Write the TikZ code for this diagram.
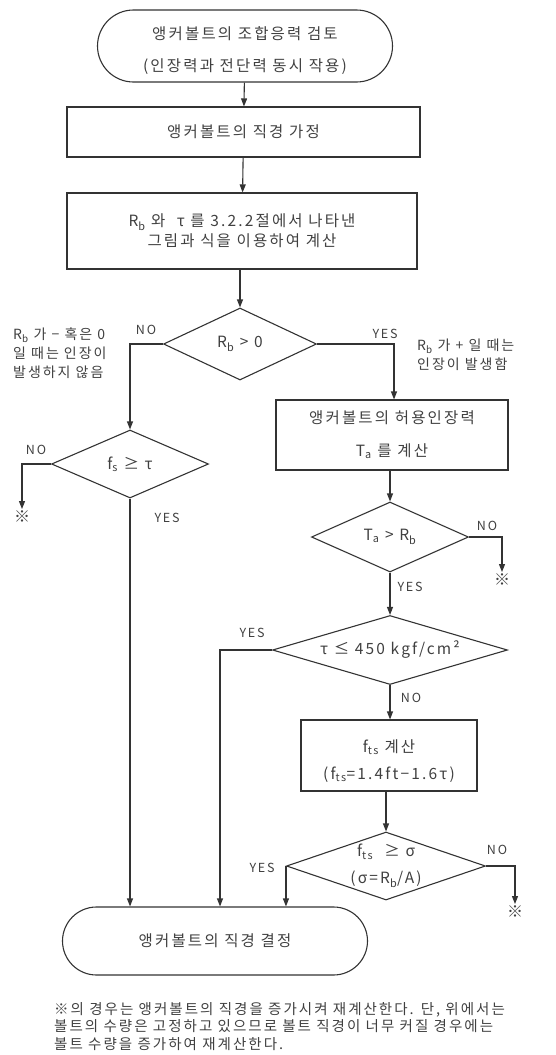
\documentclass[tikz,border=0pt]{standalone}
\usepackage{fontspec}
\setmainfont{Noto Sans CJK KR}[LetterSpace=14]
\usetikzlibrary{shapes.geometric,shapes.misc,arrows.meta}
\newcommand{\sbs}[1]{\textsubscript{#1}}
\begin{document}
\begin{tikzpicture}[x=1pt,y=-1pt,
  txt/.style={text=black!75, inner sep=1pt},
  mainfont/.style={font=\fontsize{15.5}{20}\selectfont},
  lbl/.style={txt, font=\fontsize{12.5}{19}\selectfont},
  notefont/.style={txt, font=\fontsize{14}{19}\selectfont},
  shp/.style={draw=black!80, line width=1.1pt, txt, mainfont, align=center, inner sep=0pt},
  term/.style={shp, rounded rectangle},
  box/.style={shp, rectangle},
  dec/.style={shp, diamond},
  conn/.style={draw=black!80, line width=1.1pt},
  arr/.style={conn, -{Triangle[length=8pt,width=6pt]}},
  starnode/.style={txt, font=\fontsize{16}{18}\selectfont, anchor=north}
]
\useasboundingbox (0,0) rectangle (555,1055);

% shapes
\node[term, minimum width=295pt, minimum height=72pt] (start) at (245,46) {};
\node[txt, mainfont, align=center] (starttext) at (245,51)
  {앵커볼트의 조합응력 검토\\[12pt](인장력과 전단력 동시 작용)};
\node[box, minimum width=353pt, minimum height=50pt] (b2) at (243.5,132)
  {앵커볼트의 직경 가정};
\node[box, minimum width=350pt, minimum height=76pt] (b3) at (242,231)
  {R\sbs{b} 와 \ τ 를 3.2.2절에서 나타낸\\그림과 식을 이용하여 계산};
\node[dec, aspect=2.1, minimum width=153pt, minimum height=72pt] (d1) at (240,344)
  {R\sbs{b} > 0};
\node[box, minimum width=232pt, minimum height=70pt] (b4) at (392,435)
  {앵커볼트의 허용인장력\\[13pt]T\sbs{a} 를 계산};
\node[dec, aspect=2.24, minimum width=157pt, minimum height=70pt] (d3) at (390,537)
  {T\sbs{a} > R\sbs{b}};
\node[dec, aspect=2.3, minimum width=157pt, minimum height=68pt] (d2) at (130,464)
  {f\sbs{s} ≥ τ};
\node[dec, aspect=3.4, minimum width=235pt, minimum height=69pt] (d4) at (390,650)
  {τ ≤ 450 kgf/cm²};
\node[box, minimum width=176pt, minimum height=71pt] (b5) at (389,755.5) {};
\node[txt, mainfont, align=center] (b5text) at (389,761)
  {f\sbs{ts} 계산\\[7pt](f\sbs{ts}=1.4ft−1.6τ)};
\node[dec, aspect=2.93, minimum width=199pt, minimum height=68pt] (d5) at (386,866) {};
\node[txt, mainfont, align=center] (d5text) at (386,866)
  {f\sbs{ts} \ ≥ σ\\[7pt](σ=R\sbs{b}/A)};
\node[term, minimum width=305pt, minimum height=68pt] (endT) at (215,941)
  {앵커볼트의 직경 결정};

% stars
\node[starnode] (s1) at (22,509) {※};
\node[starnode] (s2) at (502,572) {※};
\node[starnode] (s3) at (515,904) {※};

% connectors
\draw[arr] (start) -- (b2);
\draw[arr] (b2) -- (b3);
\draw[arr] (b3.south -| d1.north) -- (d1.north);
\draw[arr] (d1.west) -| (d2.north);
\draw[arr] (d1.east) -| ([xshift=2pt]b4.north);
\draw[arr] (b4.south -| d3.north) -- (d3.north);
\draw[arr] (d2.west) -| (s1.north);
\draw[arr] (d2.south) -- (d2.south |- endT.north);
\draw[arr] (d3.east) -| (s2.north);
\draw[arr] (d3.south) -- (d4.north);
\draw[arr] (d4.west) -| ([xshift=5pt]endT.north);
\draw[arr] (d4.south) -- (d4.south |- b5.north);
\draw[arr] (b5.south -| d5.north) -- (d5.north);
\draw[arr] (d5.west) -- (d5.west |- endT.north);
\draw[arr] (d5.east) -| (s3.north);

% branch labels
\node[lbl] (l1) at (146,330) {NO};
\node[lbl] (l2) at (385,334) {YES};
\node[lbl] (l3) at (36,450) {NO};
\node[lbl] (l4) at (167,518) {YES};
\node[lbl] (l5) at (487,526) {NO};
\node[lbl] (l6) at (410,587) {YES};
\node[lbl] (l7) at (252,633) {YES};
\node[lbl] (l8) at (411,698) {NO};
\node[lbl] (l9) at (262,868) {YES};
\node[lbl] (l10) at (497,850) {NO};

% notes
\node[notefont, anchor=west, align=left] (n1) at (12,353)
  {R\sbs{b} 가 − 혹은 0\\일 때는 인장이\\발생하지 않음};
\node[notefont, anchor=west, align=left] (n2) at (416,355)
  {R\sbs{b} 가 + 일 때는\\인장이 발생함};

% footnote
\node[txt, font=\fontsize{14.5}{17.5}\selectfont, anchor=north west, align=left] (fn) at (53,1001)
  {※의 경우는 앵커볼트의 직경을 증가시켜 재계산한다. 단, 위에서는\\볼트의 수량은 고정하고 있으므로 볼트 직경이 너무 커질 경우에는\\볼트 수량을 증가하여 재계산한다.};
\end{tikzpicture}
\end{document}
